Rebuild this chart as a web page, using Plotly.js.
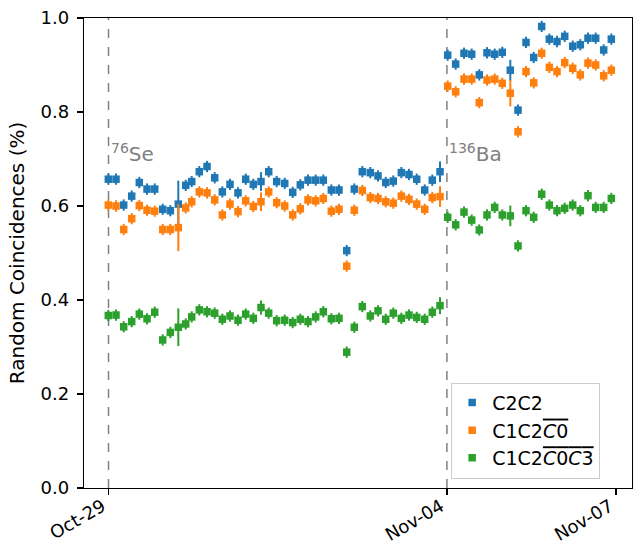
<!DOCTYPE html>
<html>
<head>
<meta charset="utf-8">
<script src="https://cdn.plot.ly/plotly-3.0.1.min.js"></script>
<style>html,body{margin:0;padding:0;background:#fff;}</style>
</head>
<body>
<div id="chart" style="width:634px;height:547px;"></div>
<script>
const times = [
  '2022-10-28 23:55','2022-10-29 03:11','2022-10-29 06:28','2022-10-29 09:52','2022-10-29 13:06','2022-10-29 16:23',
  '2022-10-29 19:40','2022-10-29 23:04','2022-10-30 02:18','2022-10-30 05:42','2022-10-30 08:51','2022-10-30 11:24',
  '2022-10-30 14:38','2022-10-30 17:55','2022-10-30 21:11','2022-10-31 00:26','2022-10-31 03:42','2022-10-31 07:06',
  '2022-10-31 10:23','2022-10-31 13:37','2022-10-31 16:53','2022-10-31 20:10','2022-10-31 23:34','2022-11-01 02:59',
  '2022-11-01 06:23','2022-11-01 09:37','2022-11-01 12:53','2022-11-01 16:10','2022-11-01 19:24','2022-11-01 22:49',
  '2022-11-02 02:05','2022-11-02 05:22','2022-11-02 08:36','2022-11-02 12:00','2022-11-02 15:24','2022-11-02 18:41',
  '2022-11-02 21:58','2022-11-03 01:11','2022-11-03 04:36','2022-11-03 07:52','2022-11-03 11:09','2022-11-03 14:33',
  '2022-11-03 17:47','2022-11-03 21:04',
  '2022-11-04 00:20','2022-11-04 03:44','2022-11-04 07:17','2022-11-04 10:33','2022-11-04 13:47','2022-11-04 17:04',
  '2022-11-04 20:20','2022-11-04 23:34','2022-11-05 02:59','2022-11-05 06:16','2022-11-05 09:40','2022-11-05 12:56',
  '2022-11-05 16:20','2022-11-05 19:35','2022-11-05 22:51','2022-11-06 02:08','2022-11-06 05:32','2022-11-06 08:46',
  '2022-11-06 12:02','2022-11-06 15:19','2022-11-06 18:43','2022-11-06 21:58'
];

const c2c2 = [
  0.657,0.657,0.602,0.621,0.650,0.636,0.636,0.593,0.590,0.604,0.644,0.652,
  0.673,0.684,0.660,0.630,0.646,0.628,0.657,0.646,0.652,0.673,0.652,0.648,
  0.629,0.645,0.655,0.655,0.655,0.634,0.634,0.505,0.636,0.673,0.671,0.664,
  0.650,0.653,0.671,0.667,0.657,0.634,0.655,0.673,
  0.921,0.902,0.925,0.923,0.879,0.926,0.923,0.927,0.889,0.804,0.948,0.916,
  0.982,0.955,0.950,0.961,0.940,0.943,0.957,0.957,0.932,0.955
];
const c2c2Err = [
  0.012,0.012,0.012,0.012,0.012,0.012,0.012,0.012,0.012,0.050,0.012,0.012,
  0.012,0.012,0.012,0.012,0.012,0.012,0.012,0.012,0.020,0.012,0.012,0.012,
  0.012,0.012,0.012,0.012,0.012,0.012,0.012,0.012,0.012,0.012,0.012,0.012,
  0.012,0.012,0.012,0.012,0.012,0.012,0.012,0.022,
  0.012,0.012,0.012,0.012,0.012,0.012,0.012,0.012,0.022,0.012,0.012,0.012,
  0.012,0.012,0.012,0.012,0.012,0.012,0.012,0.012,0.012,0.012
];

const c1c2c0 = [
  0.602,0.600,0.550,0.573,0.601,0.591,0.589,0.550,0.550,0.554,0.596,0.609,
  0.630,0.628,0.613,0.581,0.604,0.588,0.611,0.599,0.609,0.630,0.607,0.600,
  0.581,0.594,0.613,0.611,0.616,0.589,0.593,0.472,0.591,0.633,0.618,0.616,
  0.609,0.606,0.621,0.614,0.604,0.593,0.618,0.620,
  0.855,0.843,0.870,0.870,0.820,0.868,0.870,0.861,0.840,0.758,0.886,0.862,
  0.925,0.895,0.886,0.905,0.893,0.879,0.904,0.900,0.877,0.889
];
const c1c2c0Err = [
  0.012,0.012,0.012,0.012,0.012,0.012,0.012,0.012,0.012,0.050,0.012,0.012,
  0.012,0.012,0.012,0.012,0.012,0.012,0.012,0.012,0.020,0.012,0.012,0.012,
  0.012,0.012,0.012,0.012,0.012,0.012,0.012,0.012,0.012,0.012,0.012,0.012,
  0.012,0.012,0.012,0.012,0.012,0.012,0.012,0.022,
  0.012,0.012,0.012,0.012,0.012,0.012,0.012,0.012,0.028,0.012,0.012,0.012,
  0.012,0.012,0.012,0.012,0.012,0.012,0.012,0.012,0.012,0.012
];

const c1c2c0c3 = [
  0.367,0.368,0.343,0.354,0.370,0.360,0.374,0.315,0.331,0.342,0.349,0.364,
  0.379,0.375,0.372,0.359,0.366,0.357,0.370,0.361,0.384,0.372,0.356,0.357,
  0.352,0.359,0.354,0.364,0.375,0.360,0.361,0.289,0.342,0.386,0.366,0.377,
  0.359,0.372,0.361,0.368,0.363,0.359,0.374,0.388,
  0.576,0.560,0.587,0.570,0.549,0.581,0.597,0.581,0.579,0.515,0.590,0.576,
  0.625,0.602,0.590,0.595,0.602,0.590,0.622,0.597,0.597,0.616
];
const c1c2c0c3Err = [
  0.012,0.012,0.012,0.012,0.012,0.012,0.012,0.012,0.012,0.040,0.012,0.012,
  0.012,0.012,0.012,0.012,0.012,0.012,0.012,0.012,0.015,0.012,0.012,0.012,
  0.012,0.012,0.012,0.012,0.012,0.012,0.012,0.012,0.012,0.012,0.012,0.012,
  0.012,0.012,0.012,0.012,0.012,0.012,0.012,0.018,
  0.012,0.012,0.012,0.012,0.012,0.012,0.012,0.012,0.022,0.012,0.012,0.012,
  0.012,0.012,0.012,0.012,0.012,0.012,0.012,0.012,0.012,0.012
];

const seriesNames = ['C2C2',
  'C1C2<span style="text-decoration:overline"><i>C</i>0</span>',
  'C1C2<span style="text-decoration:overline"><i>C</i>0<i>C</i>3</span>'];
const seriesColors = ['#1f77b4', '#ff7f0e', '#2ca02c'];
const tickVals = ['2022-10-29', '2022-11-04', '2022-11-07'];
const tickText = ['Oct-29', 'Nov-04', 'Nov-07'];
const isotopeDates = ['2022-10-29', '2022-11-04'];
const isotopeLabels = ['<sup>76</sup>Se', '<sup>136</sup>Ba'];

const ys = [c2c2, c1c2c0, c1c2c0c3];
const errs = [c2c2Err, c1c2c0Err, c1c2c0c3Err];

const traces = ys.map((y, i) => ({
  type: 'scatter',
  mode: 'markers',
  x: times,
  y: y,
  name: seriesNames[i],
  marker: {symbol: 'square', size: 7.5, color: seriesColors[i]},
  error_y: {type: 'data', array: errs[i], visible: true, color: seriesColors[i], thickness: 2, width: 0}
}));

const layout = {
  width: 634, height: 547,
  margin: {l: 84, r: 2, t: 18, b: 59},
  paper_bgcolor: '#fff', plot_bgcolor: '#fff',
  font: {family: 'DejaVu Sans', size: 18, color: '#000'},
  showlegend: true,
  xaxis: {
    type: 'date',
    range: ['2022-10-28 13:34', '2022-11-07 06:46'],
    tickmode: 'array', tickvals: tickVals, ticktext: tickText,
    tickangle: -30, ticks: 'outside', ticklen: 6, tickwidth: 1.2, tickcolor: '#000',
    ticklabelstandoff: -6, ticklabelshift: -6,
    showline: true, linecolor: '#000', linewidth: 1.2, mirror: true,
    showgrid: false, zeroline: false,
    tickfont: {size: 18, family: 'DejaVu Sans'}
  },
  yaxis: {
    range: [0, 1], dtick: 0.2, tick0: 0, tickformat: '.1f',
    ticks: 'outside', ticklen: 6, tickwidth: 1.2, tickcolor: '#000',
    ticklabelstandoff: 4,
    showline: true, linecolor: '#000', linewidth: 1.2, mirror: true,
    showgrid: false, zeroline: false,
    tickfont: {size: 18, family: 'DejaVu Sans'},
    title: {text: 'Random Coincidences (%)', font: {size: 20, family: 'DejaVu Sans'}, standoff: 10}
  },
  legend: {
    x: 0.67, y: 0.02, xanchor: 'left', yanchor: 'bottom',
    bgcolor: 'rgba(255,255,255,0.8)', bordercolor: '#cccccc', borderwidth: 1,
    font: {size: 19, family: 'DejaVu Sans'}
  },
  shapes: isotopeDates.map(d => ({
    type: 'line', xref: 'x', yref: 'paper', x0: d, x1: d, y0: 0, y1: 1,
    line: {color: '#808080', width: 1.5, dash: 'dash'}, layer: 'below'
  })),
  annotations: isotopeDates.map((d, i) => ({
    x: d, y: 0.713, xref: 'x', yref: 'y', xanchor: 'left', yanchor: 'middle',
    text: isotopeLabels[i], showarrow: false,
    font: {size: 20, color: '#808080', family: 'DejaVu Sans'}
  }))
};

Plotly.newPlot('chart', traces, layout, {displayModeBar: false, staticPlot: true});
</script>
</body>
</html>
